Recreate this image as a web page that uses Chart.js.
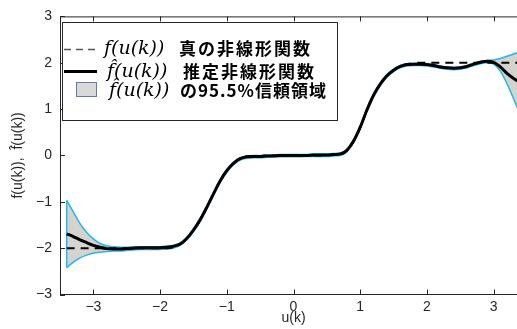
<!DOCTYPE html>
<html>
<head>
<meta charset="utf-8">
<script src="https://cdn.jsdelivr.net/npm/chart.js@4/dist/chart.umd.min.js"></script>
<style>
  html, body { margin: 0; padding: 0; overflow: hidden; background: #fff; }
  #wrap { width: 527px; height: 329px; }
</style>
</head>
<body>
<div id="wrap"><canvas id="myChart" width="527" height="329"></canvas></div>
<script>
// input u(k)
const uGrid = [-3.4, -3.3, -3.2, -3.1, -3.0, -2.9, -2.8, -2.7, -2.6, -2.5, -2.4, -2.3, -2.2, -2.1, -2.0, -1.9, -1.8,
    -1.7, -1.6, -1.5, -1.4, -1.3, -1.2, -1.1, -1.0, -0.9, -0.8, -0.7,
    -0.6, -0.5, -0.4, -0.3, -0.2, -0.1, 0, 0.1, 0.2, 0.3, 0.4, 0.5, 0.6,
    0.7, 0.8, 0.9, 1.0, 1.1, 1.2, 1.3, 1.4, 1.5, 1.6, 1.7,
    1.8, 1.9, 2.0, 2.1, 2.2, 2.3, 2.4, 2.5, 2.6, 2.7, 2.8, 2.9, 3.0, 3.1, 3.2, 3.3, 3.4];

// true nonlinear function f(u(k))
const trueF = [-2, -2, -2, -2, -2, -2, -2, -2, -2, -2, -2, -2, -2, -2, -2, -2, -1.98,
    -1.92, -1.80, -1.62, -1.40, -1.12, -0.83, -0.54, -0.32, -0.17, -0.07, -0.02,
    -0.01, -0.01, 0, 0, 0, 0, 0, 0, 0, 0, 0, 0.01, 0.01,
    0.02, 0.10, 0.30, 0.60, 0.98, 1.30, 1.54, 1.72, 1.84, 1.93, 1.97,
    1.99, 2, 2, 2, 2, 2, 2, 2, 2, 2, 2, 2, 2, 2, 2, 2, 2];

// estimated function
const estF = [-1.69, -1.75, -1.82, -1.88, -1.94, -1.98, -2.01, -2.02, -2.02, -2.01, -2.00, -1.99, -1.99, -1.99, -1.99, -1.98, -1.96,
    -1.91, -1.79, -1.61, -1.39, -1.12, -0.83, -0.55, -0.33, -0.17, -0.07, -0.03,
    -0.02, -0.02, -0.01, -0.01, 0, 0, 0, 0, 0, 0.01, 0.01, 0.01, 0.02,
    0.03, 0.11, 0.31, 0.61, 0.98, 1.30, 1.54, 1.72, 1.84, 1.92, 1.96,
    1.97, 1.97, 1.96, 1.94, 1.91, 1.89, 1.88, 1.89, 1.92, 1.97, 2.01, 2.03, 2.01, 1.91, 1.77, 1.66, 1.57];

// 95.5% confidence bounds
const upperF = [-0.97, -1.22, -1.47, -1.66, -1.80, -1.90, -1.95, -1.97, -1.98, -1.98, -1.97, -1.97, -1.97, -1.97, -1.97, -1.96, -1.94,
    -1.89, -1.77, -1.59, -1.37, -1.10, -0.81, -0.53, -0.31, -0.15, -0.05, -0.01,
    0.00, 0.00, 0.01, 0.01, 0.02, 0.02, 0.02, 0.02, 0.02, 0.03, 0.03, 0.03, 0.04,
    0.05, 0.13, 0.33, 0.63, 1.00, 1.32, 1.56, 1.74, 1.86, 1.94, 1.98,
    1.99, 1.99, 1.98, 1.96, 1.93, 1.91, 1.90, 1.91, 1.94, 1.99, 2.03, 2.05, 2.06, 2.09, 2.14, 2.19, 2.24];

const lowerF = [-2.42, -2.30, -2.21, -2.15, -2.11, -2.09, -2.07, -2.06, -2.06, -2.05, -2.04, -2.03, -2.03, -2.03, -2.03, -2.02, -2.00,
    -1.94, -1.82, -1.64, -1.42, -1.15, -0.86, -0.58, -0.36, -0.20, -0.10, -0.06,
    -0.05, -0.05, -0.04, -0.03, -0.03, -0.03, -0.03, -0.03, -0.02, -0.02, -0.02, -0.02, -0.01,
    0.00, 0.08, 0.28, 0.58, 0.95, 1.27, 1.51, 1.69, 1.81, 1.89, 1.93,
    1.94, 1.94, 1.93, 1.91, 1.88, 1.86, 1.85, 1.86, 1.89, 1.94, 1.98, 2.00, 1.97, 1.82, 1.55, 1.22, 0.88];

const xTicks = [-3, -2, -1, 0, 1, 2, 3];
const yTicks = [-3, -2, -1, 0, 1, 2, 3];

const axisColor = "#262626";
const bandColor = "#d5d3ce";
const cyan = "#22b7ee";
const labelFont = { family: '"Liberation Sans", Arial', size: 14 };

function pts(ys) {
    return uGrid.map((u, i) => ({ x: u, y: ys[i] }));
}

// inward ticks, top border and the legend box drawn on the canvas
const boxPlugin = {
    id: "boxPlugin",
    afterDraw(chart) {
        const { ctx, chartArea: a, scales } = chart;
        ctx.save();
        ctx.strokeStyle = axisColor;
        ctx.lineWidth = 1;
        ctx.beginPath();
        ctx.moveTo(a.left, a.top + 0.5);
        ctx.lineTo(a.right, a.top + 0.5);
        xTicks.forEach(v => {
            const px = Math.round(scales.x.getPixelForValue(v)) + 0.5;
            ctx.moveTo(px, a.bottom);
            ctx.lineTo(px, a.bottom - 5);
            ctx.moveTo(px, a.top);
            ctx.lineTo(px, a.top + 5);
        });
        yTicks.forEach(v => {
            const py = Math.round(scales.y.getPixelForValue(v)) + 0.5;
            ctx.moveTo(a.left, py);
            ctx.lineTo(a.left + 5, py);
        });
        ctx.stroke();

        // legend
        ctx.fillStyle = "#fff";
        ctx.fillRect(62.5, 22.5, 275, 98);
        ctx.strokeRect(62.5, 22.5, 275, 98);

        ctx.strokeStyle = "#555";
        ctx.lineWidth = 1.5;
        ctx.setLineDash([7, 5]);
        ctx.beginPath();
        ctx.moveTo(64, 49.5);
        ctx.lineTo(97, 49.5);
        ctx.stroke();
        ctx.setLineDash([]);

        ctx.strokeStyle = "#000";
        ctx.lineWidth = 3;
        ctx.beginPath();
        ctx.moveTo(64, 71.5);
        ctx.lineTo(97, 71.5);
        ctx.stroke();

        ctx.fillStyle = "#d9d9d9";
        ctx.fillRect(76, 82, 21, 15);
        ctx.strokeStyle = "#5b7fa8";
        ctx.lineWidth = 1;
        ctx.strokeRect(76.5, 82.5, 20, 14);

        ctx.fillStyle = "#000";
        ctx.textBaseline = "middle";
        ctx.font = 'italic 19px "DejaVu Serif"';
        ctx.fillText("f(u(k))", 104, 49, 69);
        ctx.fillText("f\u0302(u(k))", 107, 72, 73);
        ctx.fillText("f\u0302(u(k))", 109, 91, 70);
        ctx.font = 'bold 17px "Noto Sans CJK JP"';
        ctx.letterSpacing = "2px";
        ctx.fillText("真の非線形関数", 179, 49);
        ctx.fillText("推定非線形関数", 183, 72);
        ctx.letterSpacing = "1px";
        ctx.fillText("の95.5%信頼領域", 180, 91);
        ctx.restore();
    }
};

const ctx = document.getElementById("myChart").getContext("2d");
new Chart(ctx, {
    type: "line",
    data: {
        datasets: [
            {
                label: "estimate",
                data: pts(estF),
                borderColor: "#000",
                borderWidth: 3,
                pointRadius: 0,
                cubicInterpolationMode: "monotone",
                fill: false
            },
            {
                label: "true",
                data: pts(trueF),
                borderColor: "#000",
                borderWidth: 2,
                borderDash: [8, 6],
                pointRadius: 0,
                cubicInterpolationMode: "monotone",
                fill: false
            },
            {
                label: "edge",
                data: [{ x: uGrid[0], y: upperF[0] }, { x: uGrid[0], y: lowerF[0] }],
                borderColor: cyan,
                borderWidth: 1.5,
                pointRadius: 0,
                fill: false
            },
            {
                label: "upper",
                data: pts(upperF),
                borderColor: cyan,
                borderWidth: 1.5,
                pointRadius: 0,
                cubicInterpolationMode: "monotone",
                fill: false
            },
            {
                label: "lower",
                data: pts(lowerF),
                borderColor: cyan,
                borderWidth: 1.5,
                pointRadius: 0,
                cubicInterpolationMode: "monotone",
                backgroundColor: bandColor,
                fill: "-1"
            }
        ]
    },
    options: {
        responsive: false,
        animation: false,
        layout: { padding: { left: 0, right: 0, top: 15.5, bottom: 0 } },
        plugins: {
            legend: { display: false },
            tooltip: { enabled: false }
        },
        scales: {
            x: {
                type: "linear",
                min: -3.5,
                max: 3.5,
                afterBuildTicks: s => { s.ticks = xTicks.map(v => ({ value: v })); },
                afterFit: s => { s.height = 34.5; },
                grid: { display: false, drawTicks: false },
                border: { display: true, color: axisColor, width: 1 },
                ticks: {
                    padding: 4,
                    color: axisColor,
                    font: labelFont,
                    callback: v => String(v).replace("-", "\u2212")
                },
                title: {
                    display: true,
                    text: "u(k)",
                    color: axisColor,
                    font: labelFont,
                    padding: { top: 0, bottom: 2 }
                }
            },
            y: {
                min: -3,
                max: 3,
                afterBuildTicks: s => { s.ticks = yTicks.map(v => ({ value: v })); },
                afterFit: s => { s.width = 60; },
                grid: { display: false, drawTicks: false },
                border: { display: true, color: axisColor, width: 1 },
                ticks: {
                    padding: 8,
                    color: axisColor,
                    font: labelFont,
                    callback: v => String(v).replace("-", "\u2212")
                },
                title: {
                    display: true,
                    text: "f(u(k)),  f\u0302(u(k))",
                    color: axisColor,
                    font: labelFont,
                    padding: { top: 10, bottom: 0 }
                }
            }
        }
    },
    plugins: [boxPlugin]
});
</script>
</body>
</html>
